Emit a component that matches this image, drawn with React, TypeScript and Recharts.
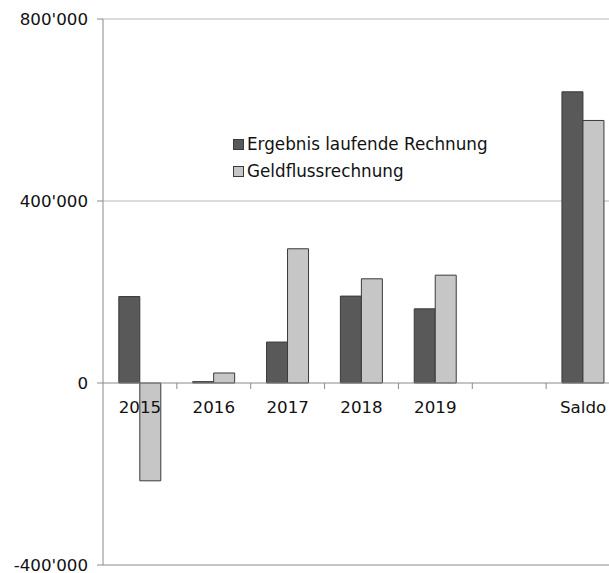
import {
  BarChart,
  Bar,
  XAxis,
  YAxis,
  CartesianGrid,
  ReferenceLine,
} from "recharts";

const categories = ["2015", "2016", "2017", "2018", "2019", "", "Saldo"];
const ergebnis = [190000, 3000, 90000, 191000, 163000, null, 640000];
const geldfluss = [-215000, 22000, 295000, 229000, 237000, null, 577000];
const yTicks = [-400000, 0, 400000, 800000];

const Y_MIN = -400000;
const Y_MAX = 800000;

const FONT = "'DejaVu Sans', Verdana, sans-serif";
const DARK = "#595959";
const LIGHT = "#c6c6c6";
const EDGE = "#3a3a3a";
const AXIS = "#8a8a8a";

const CHART_W = 620;
const CHART_H = 573;
const MARGIN = { top: 19, right: 0, bottom: 7, left: 0 };
const X_AXIS_H = 1;
const PLOT_H = CHART_H - MARGIN.top - MARGIN.bottom - X_AXIS_H;
// pixel row of the zero line, same linear mapping as the y axis
const ZERO_Y = MARGIN.top + (PLOT_H * Y_MAX) / (Y_MAX - Y_MIN);

const data = categories.map((cat, i) => ({
  cat,
  ergebnis: ergebnis[i],
  geldfluss: geldfluss[i],
}));

function formatThousands(v: number) {
  const s = Math.abs(v).toString().replace(/\B(?=(\d{3})+(?!\d))/g, "'");
  return v < 0 ? `-${s}` : s;
}

// category labels and boundary ticks hang off the zero line, not the plot bottom
function ZeroTick(props: any) {
  const { x, payload, index } = props;
  const left = x - (payload?.offset ?? 0);
  return (
    <g>
      {index > 0 && (
        <line x1={left} x2={left} y1={ZERO_Y} y2={ZERO_Y + 6} stroke={AXIS} />
      )}
      <text
        x={x}
        y={ZERO_Y + 30}
        textAnchor="middle"
        fill="#111"
        fontSize={16.7}
        fontFamily={FONT}
      >
        {payload?.value}
      </text>
    </g>
  );
}

function LegendBox() {
  const items = [
    { label: "Ergebnis laufende Rechnung", color: DARK },
    { label: "Geldflussrechnung", color: LIGHT },
  ];
  return (
    <div
      style={{
        position: "absolute",
        left: 233,
        top: 131,
        fontFamily: FONT,
        fontSize: 16.8,
        color: "#111",
        lineHeight: "27px",
      }}
    >
      {items.map((it) => (
        <div key={it.label} style={{ display: "flex", alignItems: "center" }}>
          <span
            style={{
              display: "inline-block",
              width: 9,
              height: 9,
              background: it.color,
              border: `1px solid ${EDGE}`,
              marginRight: 3,
            }}
          />
          {it.label}
        </div>
      ))}
    </div>
  );
}

export default function App() {
  return (
    <div
      style={{
        position: "fixed",
        left: 0,
        top: 0,
        width: 609,
        height: 573,
        overflow: "hidden",
        background: "#fff",
      }}
    >
      <BarChart
        width={CHART_W}
        height={CHART_H}
        data={data}
        margin={MARGIN}
        barCategoryGap="21.4%"
        barGap={0}
      >
        <CartesianGrid
          vertical={false}
          stroke="#b8b8b8"
          horizontalValues={[400000, 800000]}
        />
        <XAxis
          dataKey="cat"
          height={X_AXIS_H}
          axisLine={false}
          tickLine={false}
          tick={(p: any) => <ZeroTick {...p} />}
          interval={0}
        />
        <YAxis
          width={103}
          domain={[Y_MIN, Y_MAX]}
          ticks={yTicks}
          interval={0}
          tickFormatter={formatThousands}
          axisLine={{ stroke: AXIS }}
          tickLine={{ stroke: AXIS }}
          tickSize={6}
          tickMargin={9}
          tick={{ fill: "#111", fontSize: 16.7, fontFamily: FONT }}
          allowDataOverflow
        />
        <ReferenceLine y={Y_MIN} stroke={AXIS} />
        <Bar
          dataKey="ergebnis"
          fill={DARK}
          stroke={EDGE}
          strokeWidth={1}
          isAnimationActive={false}
        />
        <Bar
          dataKey="geldfluss"
          fill={LIGHT}
          stroke={EDGE}
          strokeWidth={1}
          isAnimationActive={false}
        />
        <ReferenceLine y={0} stroke={AXIS} />
      </BarChart>
      <LegendBox />
    </div>
  );
}
